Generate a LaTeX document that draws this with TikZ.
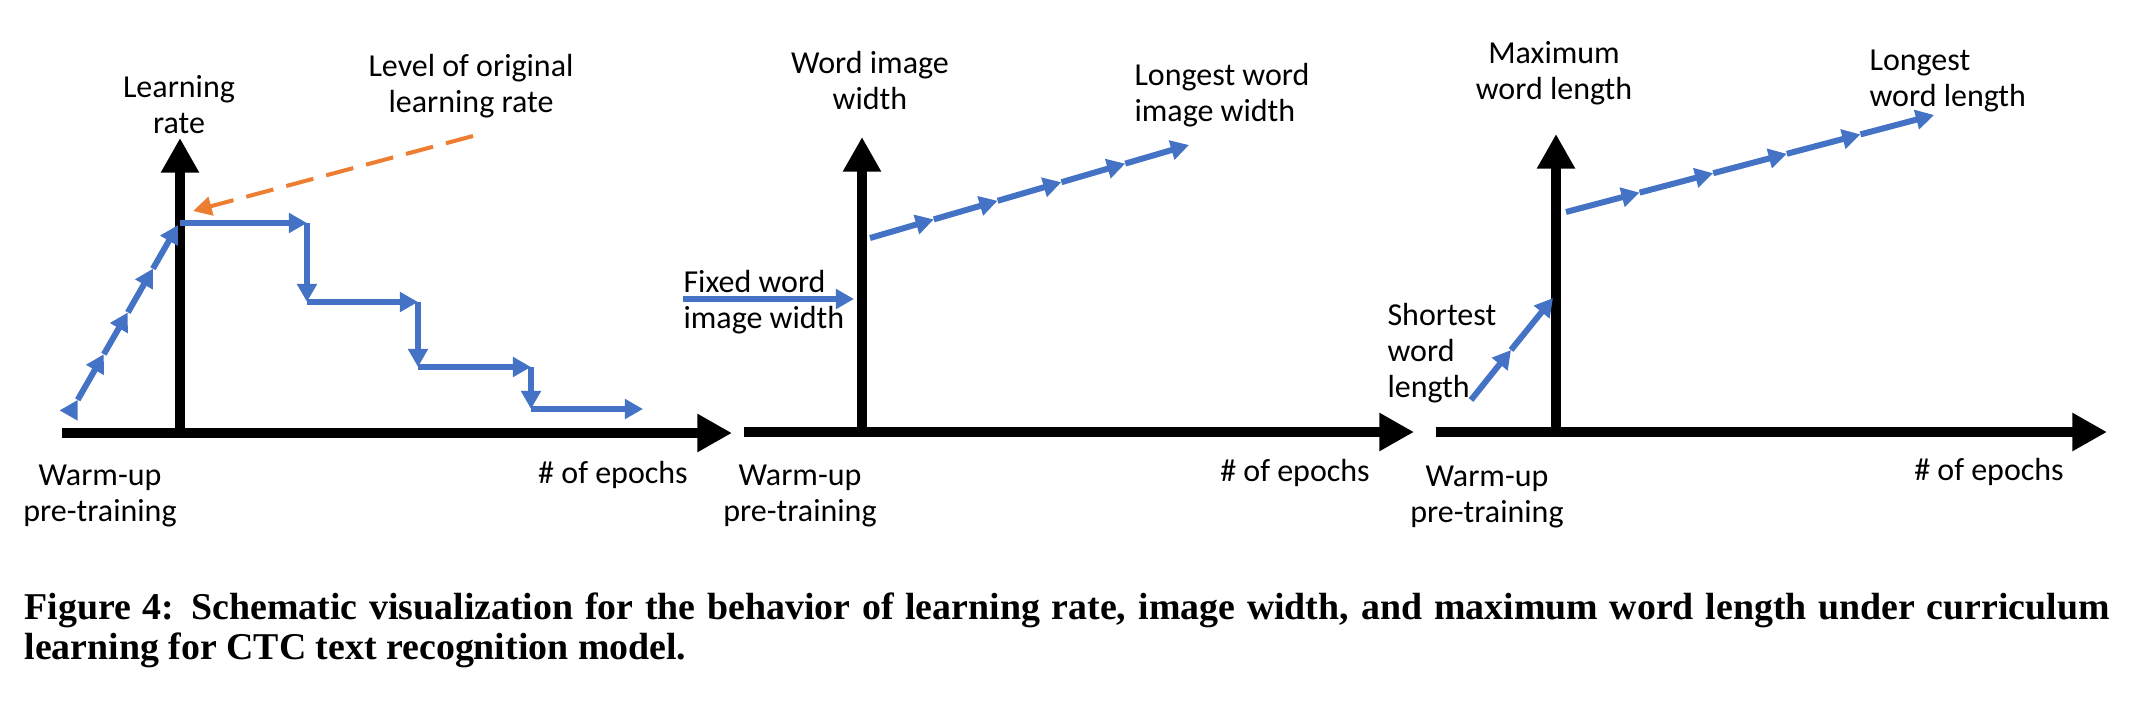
\documentclass[tikz,border=0pt]{standalone}
\usepackage{fontspec}
\setmainfont{Carlito}
\newfontfamily\capfont{Liberation Serif}
\usetikzlibrary{arrows.meta,calc}
\definecolor{ppblue}{RGB}{68,114,196}
\definecolor{pporange}{RGB}{237,125,49}
\tikzset{
  axis/.style={line width=3.75pt,-{Triangle[length=13pt,width=13.5pt]}},
  ramp/.style={ppblue,line width=2.25pt,-{Triangle[length=6.8pt,width=7.2pt]}},
  lvlarrow/.style={pporange,line width=1.5pt,dash pattern=on 10.5pt off 5pt,-{Triangle[length=7pt,width=7pt]}},
  lbl/.style={font=\fontsize{12}{13.5}\selectfont,align=center,inner sep=0pt},
  capline/.style={font=\capfont\bfseries\fontsize{14.2}{16}\selectfont,anchor=west,inner sep=0pt},
}

\begin{document}
\begin{tikzpicture}[x=0.375pt,y=-0.375pt]
        \useasboundingbox (0,0) rectangle (2154,700);
        % axes
        \coordinate (xa1) at (62,433);   \coordinate (xb1) at (732,433);
        \coordinate (ya1) at (180,433);  \coordinate (yb1) at (180,138);
        \coordinate (xa2) at (744,432);  \coordinate (xb2) at (1414,432);
        \coordinate (ya2) at (862,432);  \coordinate (yb2) at (862,137);
        \coordinate (xa3) at (1436,432); \coordinate (xb3) at (2107,432);
        \coordinate (ya3) at (1556,432); \coordinate (yb3) at (1556,134);
        \foreach \p in {1,2,3} {
          \draw[axis] (xa\p) -- (xb\p);
          \draw[axis] (ya\p) -- (yb\p);
        }
        % learning rate
        \node[lbl] (lr) at (179,105) {Learning\\rate};
        \node[lbl] (lvl) at (471,86) {Level of original\\learning rate};
        \coordinate (lv0) at (473,136);
        \coordinate (lv1) at (193,211);
        \draw[lvlarrow] (lv0) -- (lv1);
        \coordinate (w0) at (69,415);
        \coordinate (w1) at (178,225);
        \foreach \a/\b in {0/0.08,0.08/0.32,0.32/0.54,0.54/0.77,0.77/1}
          \draw[ramp] ($(w0)!\a!(w1)$) -- ($(w0)!\b!(w1)$);
        \coordinate (s0) at (180,223); \coordinate (s1) at (307,223);
        \coordinate (s2) at (307,302); \coordinate (s3) at (418,302);
        \coordinate (s4) at (418,367); \coordinate (s5) at (531,367);
        \coordinate (s6) at (531,409); \coordinate (s7) at (643,409);
        \foreach \a/\b in {s0/s1,s1/s2,s2/s3,s3/s4,s4/s5,s5/s6,s6/s7}
          \draw[ramp] (\a) -- (\b);
        % image width
        \node[lbl] (wiw) at (870,81) {Word image\\width};
        \node[lbl,anchor=west,align=left] (lwiw) at (1134,95) {Longest word\\image width};
        \node[lbl,anchor=west,align=left] (fww) at (683,302) {Fixed word\\image width};
        \coordinate (fx0) at (683,299);
        \coordinate (fx1) at (854,299);
        \draw[ramp] (fx0) -- (fx1);
        \coordinate (r20) at (870,238);
        \coordinate (r21) at (1189,145);
        \foreach \i [evaluate=\i as \j using \i+0.2] in {0,0.2,0.4,0.6,0.8}
          \draw[ramp] ($(r20)!\i!(r21)$) -- ($(r20)!\j!(r21)$);
        % word length
        \node[lbl] (mwl) at (1554,73) {Maximum\\word length};
        \node[lbl,anchor=west,align=left] (lwl) at (1869,81) {Longest\\word length};
        \node[lbl,anchor=west,align=left] (swl) at (1387,353) {Shortest\\word\\length};
        \coordinate (sh0) at (1471,400);
        \coordinate (sh1) at (1511,350);
        \coordinate (sh2) at (1553,298);
        \draw[ramp] (sh0) -- (sh1);
        \draw[ramp] (sh1) -- (sh2);
        \coordinate (r30) at (1566,212);
        \coordinate (r31) at (1934,115);
        \foreach \i [evaluate=\i as \j using \i+0.2] in {0,0.2,0.4,0.6,0.8}
          \draw[ramp] ($(r30)!\i!(r31)$) -- ($(r30)!\j!(r31)$);
        % axis labels
        \node[lbl] (wu1) at (100,496) {Warm-up\\pre-training};
        \node[lbl] (wu2) at (800,496) {Warm-up\\pre-training};
        \node[lbl] (wu3) at (1487,497) {Warm-up\\pre-training};
        \node[lbl] (ep1) at (613,475) {\# of epochs};
        \node[lbl] (ep2) at (1295,473) {\# of epochs};
        \node[lbl] (ep3) at (1989,472) {\# of epochs};
        % caption
        \node[capline] (cap1) at (24,610) {\makebox[782pt][s]{Figure 4: Schematic visualization for the behavior of learning rate, image width, and maximum word length under curriculum}};
        \node[capline] (cap2) at (24,650) {learning for CTC text recognition model.};
      \end{tikzpicture}
\end{document}
